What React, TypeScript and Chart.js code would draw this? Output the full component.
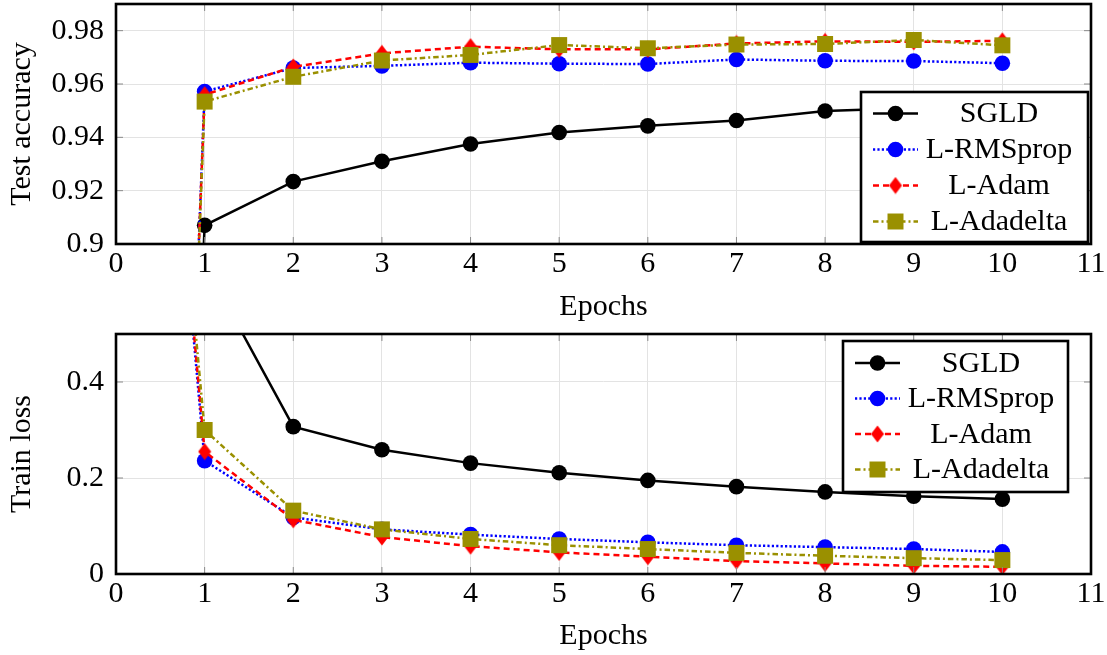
import React, { useEffect, useRef } from "react";
import { Chart, registerables } from "chart.js";

Chart.register(...registerables);

// ---------- data ----------
const epochs = [0, 1, 2, 3, 4, 5, 6, 7, 8, 9, 10];
const seriesNames = ["SGLD", "L-RMSprop", "L-Adam", "L-Adadelta"];

const accSGLD = [0.1, 0.907, 0.9234, 0.931, 0.9375, 0.9418, 0.9443, 0.9463, 0.9499, 0.951, 0.952];
const accRMSprop = [0.1, 0.9572, 0.966, 0.9668, 0.968, 0.9676, 0.9675, 0.9692, 0.9687, 0.9686, 0.9678];
const accAdam = [0.1, 0.956, 0.9664, 0.9715, 0.974, 0.973, 0.973, 0.9752, 0.976, 0.9758, 0.9762];
const accAdadelta = [0.1, 0.9534, 0.9627, 0.9688, 0.9709, 0.9746, 0.9734, 0.9748, 0.975, 0.9765, 0.9745];

const lossSGLD = [2.3, 0.646, 0.307, 0.259, 0.231, 0.211, 0.195, 0.182, 0.171, 0.162, 0.156];
const lossRMSprop = [2.3, 0.236, 0.118, 0.093, 0.082, 0.073, 0.066, 0.06, 0.056, 0.052, 0.046];
const lossAdam = [2.3, 0.255, 0.113, 0.077, 0.058, 0.045, 0.036, 0.027, 0.022, 0.017, 0.015];
const lossAdadelta = [2.3, 0.3, 0.132, 0.093, 0.073, 0.06, 0.052, 0.044, 0.038, 0.033, 0.029];

const xTicks = [0, 1, 2, 3, 4, 5, 6, 7, 8, 9, 10, 11];
const accTicks = [0.9, 0.92, 0.94, 0.96, 0.98];
const lossTicks = [0, 0.2, 0.4];

// ---------- styles ----------
const FONT = "'Liberation Serif', 'Times New Roman', serif";
const FS = 30;
const OLIVE = "#9a9000";

function makeDiamond(color: string) {
  const c = document.createElement("canvas");
  c.width = 14;
  c.height = 18;
  const g = c.getContext("2d")!;
  g.fillStyle = color;
  g.beginPath();
  g.moveTo(7, 0.5);
  g.lineTo(13.5, 9);
  g.lineTo(7, 17.5);
  g.lineTo(0.5, 9);
  g.closePath();
  g.fill();
  return c;
}

type Style = {
  color: string;
  dash: number[];
  point: any;
  radius: number;
};

function styles(): Style[] {
  return [
    { color: "#000000", dash: [], point: "circle", radius: 7.8 },
    { color: "#0000ff", dash: [2.2, 2.2], point: "circle", radius: 7.8 },
    { color: "#ff0000", dash: [6, 4], point: makeDiamond("#ff0000"), radius: 8 },
    { color: OLIVE, dash: [5.5, 3, 2, 3], point: "rect", radius: 11.3 },
  ];
}

function drawMarker(ctx: CanvasRenderingContext2D, st: Style, x: number, y: number) {
  ctx.save();
  ctx.setLineDash([]);
  ctx.fillStyle = st.color;
  if (st.point === "circle") {
    ctx.beginPath();
    ctx.arc(x, y, st.radius, 0, Math.PI * 2);
    ctx.fill();
  } else if (st.point === "rect") {
    const s = st.radius * Math.SQRT1_2;
    ctx.fillRect(x - s, y - s, 2 * s, 2 * s);
  } else {
    const img = st.point as HTMLCanvasElement;
    ctx.drawImage(img, x - img.width / 2, y - img.height / 2);
  }
  ctx.restore();
}

const frameLegend = {
  id: "frameLegend",
  afterDraw(chart: any, _args: any, opts: any) {
    const { ctx, chartArea: a } = chart;
    const xs = chart.scales.x;
    const ys = chart.scales.y;
    ctx.save();
    // inner tick marks
    ctx.strokeStyle = "#8a8a8a";
    ctx.lineWidth = 1;
    ctx.setLineDash([]);
    const seg = (x1: number, y1: number, x2: number, y2: number) => {
      ctx.beginPath();
      ctx.moveTo(x1, y1);
      ctx.lineTo(x2, y2);
      ctx.stroke();
    };
    ys.ticks.forEach((t: any) => {
      const py = ys.getPixelForValue(t.value);
      seg(a.left, py, a.left + 7, py);
      seg(a.right - 7, py, a.right, py);
    });
    xs.ticks.forEach((t: any) => {
      const px = xs.getPixelForValue(t.value);
      seg(px, a.bottom, px, a.bottom - 7);
      seg(px, a.top, px, a.top + 7);
    });
    // frame
    ctx.strokeStyle = "#000";
    ctx.lineWidth = 2.6;
    ctx.strokeRect(a.left, a.top, a.right - a.left, a.bottom - a.top);
    // legend
    const L = opts.box;
    if (L) {
      const st: Style[] = opts.styles;
      ctx.fillStyle = "#fff";
      ctx.fillRect(L.x, L.y, L.w, L.h);
      ctx.strokeStyle = "#000";
      ctx.lineWidth = 2.6;
      ctx.strokeRect(L.x, L.y, L.w, L.h);
      chart.data.datasets.forEach((ds: any, i: number) => {
        const cy = L.y + L.first + i * L.step;
        ctx.strokeStyle = st[i].color;
        ctx.lineWidth = 2.5;
        ctx.setLineDash(st[i].dash);
        seg(L.x + 12, cy, L.x + 57, cy);
        ctx.setLineDash([]);
        drawMarker(ctx, st[i], L.x + 34.5, cy);
        ctx.fillStyle = "#000";
        ctx.font = `${FS}px ${FONT}`;
        ctx.textAlign = "center";
        ctx.textBaseline = "middle";
        ctx.fillText(ds.label, L.x + 138, cy + 1);
      });
    }
    ctx.restore();
  },
};

function fmt(v: number) {
  return String(Number(v.toFixed(2)));
}

function buildConfig(p: {
  series: number[][];
  yMin: number;
  yMax: number;
  yTicks: number[];
  yTitle: string;
  xScaleHeight: number;
  xTitlePad: number;
  box: any;
}): any {
  const st = styles();
  const datasets = seriesNames.map((name, i) => ({
    label: name,
    data: epochs.map((e, k) => ({ x: e, y: p.series[i][k] })),
    borderColor: st[i].color,
    backgroundColor: st[i].color,
    borderWidth: 2.5,
    borderDash: st[i].dash,
    borderCapStyle: "butt",
    pointStyle: st[i].point,
    pointRadius: st[i].radius,
    pointBackgroundColor: st[i].color,
    pointBorderColor: st[i].color,
    pointBorderWidth: 0,
    tension: 0,
    fill: false,
    clip: 0,
    order: 4 - i,
  }));
  return {
    type: "line",
    data: { datasets },
    plugins: [frameLegend],
    options: {
      responsive: false,
      animation: false,
      devicePixelRatio: 1,
      layout: { autoPadding: false, padding: { left: 0, right: 16, top: 4, bottom: 0 } },
      plugins: {
        legend: { display: false },
        tooltip: { enabled: false },
        frameLegend: { box: p.box, styles: st },
      },
      scales: {
        x: {
          type: "linear",
          min: 0,
          max: 11,
          afterBuildTicks: (s: any) => {
            s.ticks = xTicks.map((v) => ({ value: v }));
          },
          afterFit: (s: any) => {
            s.height = p.xScaleHeight;
            s.paddingLeft = 0;
            s.paddingRight = 0;
          },
          grid: { color: "#e3e3e3", lineWidth: 1, drawTicks: false },
          border: { display: false },
          ticks: {
            padding: 5,
            color: "#000",
            font: { family: FONT, size: FS, lineHeight: 1 },
            maxRotation: 0,
            autoSkip: false,
            callback: (v: number) => String(v),
          },
          title: {
            display: true,
            text: "Epochs",
            color: "#000",
            font: { family: FONT, size: FS, lineHeight: 1 },
            padding: { top: 0, bottom: p.xTitlePad },
          },
        },
        y: {
          type: "linear",
          min: p.yMin,
          max: p.yMax,
          afterBuildTicks: (s: any) => {
            s.ticks = p.yTicks.map((v) => ({ value: v }));
          },
          afterFit: (s: any) => {
            s.width = 116;
            s.paddingTop = 0;
            s.paddingBottom = 0;
          },
          grid: { color: "#e3e3e3", lineWidth: 1, drawTicks: false },
          border: { display: false },
          ticks: {
            padding: 12,
            color: "#000",
            font: { family: FONT, size: FS, lineHeight: 1 },
            autoSkip: false,
            callback: (v: number) => fmt(v),
          },
          title: {
            display: true,
            text: p.yTitle,
            color: "#000",
            font: { family: FONT, size: FS, lineHeight: 1 },
            padding: { top: 7, bottom: 0 },
          },
        },
      },
    },
  };
}

function ChartCanvas({ config, width, height }: { config: () => any; width: number; height: number }) {
  const ref = useRef<HTMLCanvasElement | null>(null);
  useEffect(() => {
    if (!ref.current) return;
    const chart = new Chart(ref.current, config());
    return () => chart.destroy();
  }, []);
  return <canvas ref={ref} width={width} height={height} style={{ display: "block", width, height }} />;
}

export default function App() {
  const topCfg = () =>
    buildConfig({
      series: [accSGLD, accRMSprop, accAdam, accAdadelta],
      yMin: 0.9,
      yMax: 0.99,
      yTicks: accTicks,
      yTitle: "Test accuracy",
      xScaleHeight: 86,
      xTitlePad: 8,
      box: { x: 861, y: 92, w: 227, h: 150, first: 21.5, step: 36 },
    });
  const bottomCfg = () =>
    buildConfig({
      series: [lossSGLD, lossRMSprop, lossAdam, lossAdadelta],
      yMin: 0,
      yMax: 0.5,
      yTicks: lossTicks,
      yTitle: "Train loss",
      xScaleHeight: 81,
      xTitlePad: 4,
      box: { x: 843, y: 11, w: 225, h: 151, first: 22, step: 35.5 },
    });
  return (
    <div style={{ position: "absolute", left: 0, top: 0, width: 1107, height: 655, background: "#fff" }}>
      <ChartCanvas config={topCfg} width={1107} height={330} />
      <ChartCanvas config={bottomCfg} width={1107} height={325} />
    </div>
  );
}
